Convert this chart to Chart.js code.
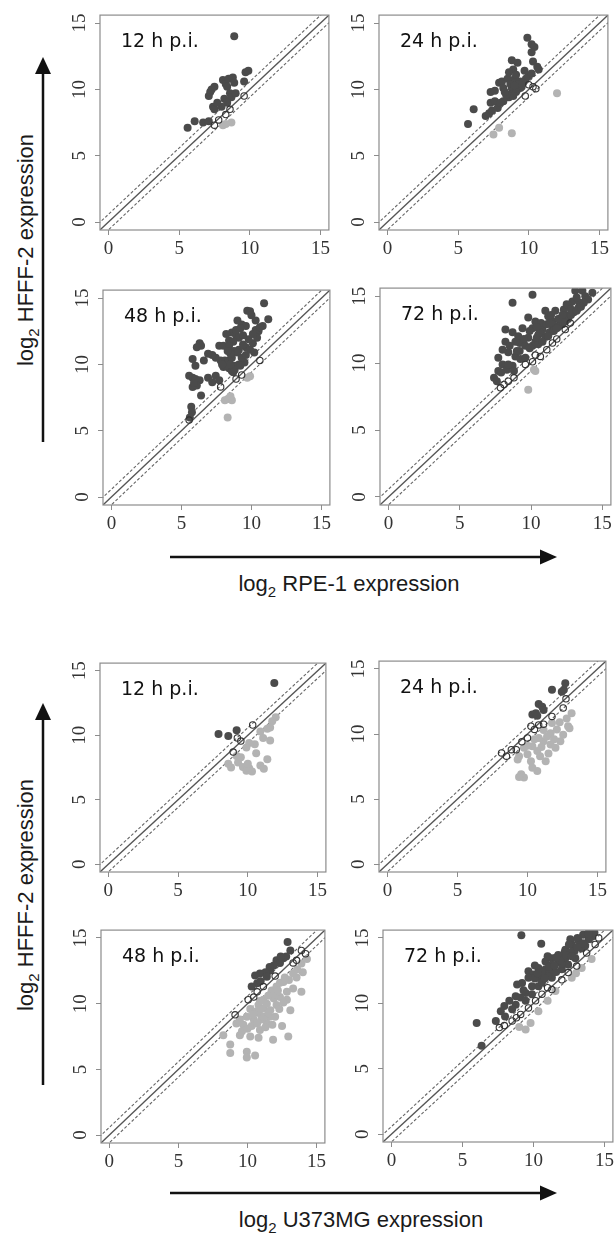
<!DOCTYPE html>
<html><head><meta charset="utf-8">
<script src="https://cdn.jsdelivr.net/npm/chart.js@4.4.0/dist/chart.umd.min.js"></script>
<style>
html,body{margin:0;padding:0;background:#fff;}
body{width:616px;height:1233px;position:relative;overflow:hidden;}
canvas{position:absolute;z-index:1;}
svg{position:absolute;left:0;top:0;z-index:0;}
</style></head>
<body>
<svg width="616" height="1233" xmlns="http://www.w3.org/2000/svg" font-family="'Liberation Sans', Arial, sans-serif" font-size="22" fill="#1a1a1a">
  <line x1="43" y1="442" x2="43" y2="70" stroke="#111" stroke-width="2.5"/>
  <polygon points="43,57 35,74 51,74" fill="#111"/>
  <line x1="170" y1="557" x2="542" y2="557" stroke="#111" stroke-width="2.5"/>
  <polygon points="557,557 540,549.5 540,564.5" fill="#111"/>
  <line x1="43" y1="1085" x2="43" y2="716" stroke="#111" stroke-width="2.5"/>
  <polygon points="43,703 35,720 51,720" fill="#111"/>
  <line x1="170" y1="1193" x2="542" y2="1193" stroke="#111" stroke-width="2.5"/>
  <polygon points="557,1193 540,1185.5 540,1200.5" fill="#111"/>
  <text transform="translate(33,250) rotate(-90)" text-anchor="middle">log<tspan font-size="15" dy="6">2</tspan><tspan dy="-6"> HFFF-2 expression</tspan></text>
  <text transform="translate(33,895) rotate(-90)" text-anchor="middle">log<tspan font-size="15" dy="6">2</tspan><tspan dy="-6"> HFFF-2 expression</tspan></text>
  <text x="349" y="591" text-anchor="middle">log<tspan font-size="15" dy="6">2</tspan><tspan dy="-6"> RPE-1 expression</tspan></text>
  <text x="361" y="1227" text-anchor="middle">log<tspan font-size="15" dy="6">2</tspan><tspan dy="-6"> U373MG expression</tspan></text>
</svg>
<script>
// ---------- tick labels / reference lines ----------
const axisTicks = [0, 5, 10, 15];
const axisMin = -0.6, axisMax = 15.6;
const diagLine  = [[-1, -1], [16, 16]];
const upperLine = [[-1, -0.415], [16, 16.585]];
const lowerLine = [[-1, -1.585], [16, 15.415]];

// ---------- RPE-1 vs HFFF-2 ----------
const rpe12Up = [[5.6,7.1],[6.1,7.6],[6.7,7.5],[7.1,7.6],[7.4,8.7],[7.5,8.5],[7.1,9.5],[7.2,9.8],[7.3,10.0],[7.5,10.2],[8.1,10.7],[8.3,10.4],[8.5,10.8],[8.8,10.9],[8.4,10.2],[8.6,9.7],[8.2,9.3],[8.7,9.4],[9.0,9.7],[8.4,9.0],[9.7,11.3],[9.9,11.4],[9.6,10.6],[8.9,14.0],[8.0,8.7],[8.9,10.5],[7.7,9.0]];
const rpe12Down = [[8.1,7.3],[8.7,7.5],[8.3,7.4]];
const rpe12Same = [[7.5,7.3],[7.8,7.7],[8.3,8.1],[9.6,9.5],[8.6,8.5]];

const rpe24Up = [[5.7,7.4],[6.1,8.5],[6.95,8.0],[7.2,8.2],[7.4,8.4],[7.3,9.0],[7.6,9.1],[7.3,9.8],[7.6,9.9],[7.9,10.5],[8.1,10.6],[8.2,10.1],[8.5,10.8],[8.8,12.2],[9.2,12.0],[8.9,11.5],[8.6,11.3],[9.0,10.8],[9.4,10.6],[8.8,10.1],[9.2,10.0],[9.4,10.1],[8.6,9.6],[8.6,9.4],[8.2,9.1],[8.8,9.6],[9.9,13.9],[10.2,13.4],[10.4,13.2],[10.2,12.8],[10.3,12.1],[10.6,11.7],[10.2,11.2],[10.0,11.0],[9.8,10.8],[10.7,11.5],[9.5,10.2],[9.1,9.8],[8.9,9.5],[8.4,9.6],[7.8,8.6],[8.0,9.0],[9.6,10.5],[9.3,10.4],[8.7,10.4],[9.1,11.1],[8.3,9.8],[9.0,10.3],[9.7,11.4]];
const rpe24Down = [[7.5,6.6],[7.9,7.1],[8.8,6.7],[12.0,9.7]];
const rpe24Same = [[10.0,10.35],[10.5,10.05],[10.3,10.2],[9.75,9.5]];

const rpe48Up = [[10.9,14.6],[11.2,13.4],[9.7,14.05],[9.9,14.0],[10.0,13.7],[10.8,12.9],[10.5,12.5],[10.3,12.6],[9.3,13.0],[9.0,13.3],[9.6,12.9],[8.6,12.4],[8.9,12.2],[9.1,12.0],[8.4,11.8],[8.7,11.7],[7.7,11.4],[8.0,11.4],[8.4,11.4],[9.1,11.1],[9.6,11.3],[9.9,11.1],[10.2,10.9],[10.1,11.6],[10.4,12.0],[8.75,11.0],[9.0,10.9],[8.6,10.5],[8.4,10.3],[8.1,10.3],[7.8,10.3],[7.45,10.5],[7.2,10.7],[6.3,11.6],[6.4,11.4],[6.1,11.3],[5.8,10.4],[6.0,9.9],[6.9,10.8],[6.6,10.3],[5.55,9.15],[5.8,9.0],[6.0,8.9],[6.3,8.8],[5.8,8.3],[6.1,8.4],[6.4,7.65],[5.9,8.6],[6.9,9.0],[7.2,8.65],[7.45,9.15],[7.7,8.8],[8.0,9.8],[8.4,9.7],[8.6,9.5],[8.8,9.9],[9.1,10.0],[9.5,10.15],[9.3,10.5],[5.7,6.8],[5.75,6.4],[5.6,6.0],[8.2,9.9],[8.7,9.4],[9.6,10.7],[9.8,11.9],[9.4,12.2],[8.9,12.6],[9.2,12.7],[10.1,12.3],[8.5,10.8],[7.9,10.0],[8.3,11.0],[8.8,9.6],[9.2,9.9],[8.5,10.0],[9.4,11.5],[10.6,12.8],[10.3,13.3],[8.2,12.3]];
const rpe48Down = [[8.3,6.0],[8.35,7.4],[8.6,7.3],[8.5,7.6],[9.7,9.0],[9.9,9.1],[8.1,7.3]];
const rpe48Same = [[5.55,5.8],[7.8,8.3],[8.9,8.9],[10.6,10.3],[9.3,9.2]];

const rpe72Up = [[10.1,15.1],[8.7,14.5],[8.2,12.5],[8.2,11.6],[8.7,12.3],[9.1,12.0],[9.2,11.5],[9.6,11.3],[9.8,11.9],[7.7,10.4],[8.0,9.9],[7.7,9.4],[7.4,8.9],[7.6,8.65],[8.3,9.5],[8.7,9.8],[8.8,9.4],[8.4,10.8],[8.0,11.0],[8.9,10.5],[9.25,10.3],[9.6,10.4],[10.1,11.3],[10.3,11.6],[10.5,12.1],[10.1,12.6],[11.0,13.9],[11.2,13.5],[11.5,13.1],[11.7,13.9],[11.9,13.3],[12.2,12.9],[12.4,13.6],[12.6,13.3],[12.9,14.6],[13.1,15.4],[13.6,15.4],[13.8,15.0],[13.3,14.1],[14.0,14.75],[14.3,15.25],[10.5,11.4],[10.8,12.5],[11.5,12.5],[10.3,13.1],[9.8,13.4],[11.0,12.0],[11.3,12.3],[12.0,12.8],[12.3,14.0],[12.7,14.2],[13.0,13.8],[13.4,14.5],[13.7,14.5],[9.4,12.6],[9.0,10.9],[8.5,11.3],[10.7,13.0],[11.6,12.8],[12.8,13.6],[7.9,9.3],[8.4,9.9],[9.9,11.1],[10.4,11.9],[11.1,12.9],[11.9,12.7],[12.5,14.4],[13.2,14.9],[11.4,13.6],[9.2,10.9],[8.9,11.6],[10.8,11.6],[11.2,12.0],[11.6,12.4],[12.0,13.3],[12.4,13.1],[12.8,14.0],[13.2,13.9],[13.5,14.2],[10.6,12.3],[11.3,13.0],[11.8,12.6],[12.2,13.6],[9.5,11.8],[9.9,12.4],[10.4,12.7]];
const rpe72Down = [[9.8,8.0],[10.3,9.4],[10.2,9.5]];
const rpe72Same = [[7.85,8.15],[8.1,8.4],[8.4,8.65],[8.8,8.9],[9.6,9.9],[10.1,10.1],[10.65,10.5],[11.1,11.0],[11.5,11.5],[11.8,11.8],[12.4,12.5],[12.75,13.0],[10.3,10.6]];

// ---------- U373MG vs HFFF-2 ----------
const u12Up = [[11.9,14.05],[7.9,10.1],[8.6,9.95],[9.2,10.4]];
const u12Down = [[12.0,11.4],[11.75,11.1],[11.4,10.5],[10.9,10.3],[11.6,9.6],[10.5,9.3],[10.1,9.4],[9.9,9.05],[8.6,7.8],[8.8,7.5],[9.3,7.9],[9.65,7.55],[9.9,7.25],[10.1,7.45],[10.0,7.8],[10.3,7.2],[10.9,7.65],[11.15,7.4],[11.4,8.15],[11.6,10.6],[11.1,9.8],[10.6,8.6],[9.2,8.4],[9.5,8.3]];
const u12Same = [[10.35,10.8],[9.25,9.8],[9.5,9.55],[8.95,8.7]];

const u24Up = [[12.7,13.9],[11.75,13.4],[12.45,13.25],[10.8,12.3],[11.05,12.1],[11.15,11.85],[10.35,11.5],[10.6,11.6],[10.7,11.4],[12.6,13.4]];
const u24Down = [[13.15,11.6],[12.9,10.6],[12.55,9.95],[12.35,9.45],[11.65,9.2],[11.15,9.45],[10.8,9.7],[10.7,8.7],[10.35,9.05],[10.0,8.45],[9.75,8.95],[9.4,8.3],[9.3,8.05],[9.55,6.9],[9.75,6.65],[9.4,6.7],[10.7,7.15],[11.3,7.9],[11.65,10.05],[11.15,10.3],[11.4,9.8],[11.75,10.85],[12.0,8.95],[10.35,7.4],[10.25,7.9],[10.9,8.3],[12.8,11.2],[13.0,10.45],[12.1,10.35],[11.9,9.6],[11.0,9.0],[10.5,9.6],[12.3,10.9],[11.5,8.5],[10.0,9.1]];
const u24Same = [[8.15,8.55],[8.5,8.3],[8.85,8.8],[9.2,8.8],[10.0,9.7],[10.25,10.6],[10.5,10.35],[10.8,10.7],[11.15,10.75],[11.75,11.35],[12.55,12.0],[12.75,12.7],[9.6,9.4]];

const u48Up = [[12.9,14.7],[13.1,14.05],[12.6,13.45],[12.1,13.3],[12.35,13.1],[11.65,12.55],[11.3,12.4],[10.9,12.3],[10.55,12.15],[10.7,11.55],[10.95,11.7],[11.9,12.9],[12.8,13.6],[11.4,12.05],[10.3,11.3],[11.6,12.8],[12.4,13.6]];
const u48Down = [[8.25,7.6],[8.75,6.9],[8.75,6.25],[9.95,6.35],[9.95,5.9],[10.55,6.05],[9.45,7.6],[10.2,7.5],[10.8,7.4],[11.85,7.25],[12.95,7.5],[10.9,8.0],[11.4,8.5],[10.45,8.8],[9.7,8.4],[9.95,9.0],[10.8,9.3],[11.15,9.65],[11.4,10.0],[11.65,9.5],[12.0,9.0],[12.1,9.9],[12.35,10.5],[12.85,10.9],[13.3,11.15],[13.9,10.9],[13.55,12.0],[14.0,12.4],[13.9,13.05],[14.3,13.4],[12.85,10.3],[13.1,9.5],[11.75,11.0],[12.1,11.3],[11.15,10.3],[10.9,10.2],[10.2,9.6],[9.45,8.8],[9.2,8.5],[12.6,11.65],[12.35,11.6],[11.0,8.8],[11.6,9.0],[12.3,9.6],[11.9,10.4],[13.0,11.8],[13.6,12.6],[12.7,12.0],[10.6,9.4],[11.3,8.2],[9.6,7.9],[10.0,8.1],[12.5,8.3],[11.5,10.6],[13.3,12.3],[10.4,9.2],[10.8,9.9],[11.2,9.0],[10.3,8.3],[11.0,9.6],[11.5,9.3],[12.0,10.7],[12.6,10.1],[10.7,8.5],[11.8,8.4],[12.2,11.0]];
const u48Same = [[9.1,9.15],[10.05,10.3],[10.45,10.5],[11.15,11.3],[13.9,14.05],[14.2,13.8],[13.55,13.3],[13.3,13.1],[10.7,10.9],[12.0,12.1]];

const u72Up = [[9.15,15.2],[10.55,14.55],[6.0,8.5],[6.35,6.75],[7.35,8.65],[7.7,9.4],[7.95,9.8],[8.3,10.2],[8.75,10.55],[8.85,11.45],[9.2,11.55],[9.65,12.45],[10.0,12.2],[9.65,11.95],[10.35,12.7],[10.85,13.2],[11.3,13.45],[11.75,13.7],[12.25,14.1],[12.7,14.5],[13.15,14.85],[13.5,15.25],[13.85,15.35],[14.1,15.1],[11.3,12.95],[10.85,12.6],[10.35,11.95],[9.9,11.3],[9.45,10.8],[9.1,10.45],[8.75,9.9],[8.5,9.55],[11.75,13.2],[12.25,13.45],[12.7,13.95],[11.3,11.95],[12.0,12.6],[12.45,12.95],[12.95,13.45],[13.4,14.2],[13.65,14.4],[10.35,11.3],[9.9,10.7],[9.45,10.2],[11.3,12.45],[11.0,12.1],[12.0,13.0],[12.9,14.0],[13.3,14.6],[13.9,14.9],[14.3,15.4],[11.6,12.4],[10.6,11.6],[8.0,9.0],[9.3,11.0],[10.1,11.9],[12.2,13.9],[11.0,13.6],[10.1,12.9],[12.6,14.9],[13.1,15.0],[10.6,12.4],[11.1,12.8],[11.5,12.9],[11.9,13.3],[12.3,13.7],[12.7,13.6],[13.1,14.3],[13.5,14.6],[10.3,12.3],[10.8,11.9],[11.6,13.5],[12.5,14.5],[13.9,15.3]];
const u72Down = [[9.45,8.0],[9.8,8.5],[10.35,9.4],[11.55,10.95],[12.7,11.95],[13.4,12.7],[14.1,13.4],[9.0,8.2],[11.0,10.2],[13.0,12.3]];
const u72Same = [[7.6,8.15],[7.95,8.3],[8.5,8.65],[9.1,9.15],[9.65,9.65],[10.15,10.2],[10.6,10.7],[11.3,11.05],[12.0,11.8],[12.45,12.35],[13.05,12.85],[13.75,13.85],[14.35,14.5],[14.6,15.0],[11.0,11.2],[8.8,8.9]];

// ---------- panel layout (box = plot frame in page pixels) ----------
const panels = [
  {title:'12 h p.i.', box:[100,14,331,230],  up:rpe12Up, down:rpe12Down, same:rpe12Same},
  {title:'24 h p.i.', box:[379,14,610,230],  up:rpe24Up, down:rpe24Down, same:rpe24Same},
  {title:'48 h p.i.', box:[103,289,332,505], up:rpe48Up, down:rpe48Down, same:rpe48Same},
  {title:'72 h p.i.', box:[380,287,613,505], up:rpe72Up, down:rpe72Down, same:rpe72Same},
  {title:'12 h p.i.', box:[100,662,328,872], up:u12Up, down:u12Down, same:u12Same},
  {title:'24 h p.i.', box:[379,660,608,872], up:u24Up, down:u24Down, same:u24Same},
  {title:'48 h p.i.', box:[101,929,327,1143],up:u48Up, down:u48Down, same:u48Same},
  {title:'72 h p.i.', box:[383,929,615,1142],up:u72Up, down:u72Down, same:u72Same}
];

const YW = 40, XH = 34, TP = 4, RP = 3;
const toXY = arr => arr.map(p => ({x:p[0], y:p[1]}));

const decorPlugin = {
  id: 'decor',
  afterDraw(chart, args, opts) {
    const ctx = chart.ctx, a = chart.chartArea;
    ctx.save();
    ctx.strokeStyle = '#8c8c8c';
    ctx.lineWidth = 1.2;
    ctx.strokeRect(a.left, a.top, a.right - a.left, a.bottom - a.top);
    const ys = chart.scales.y;
    ctx.fillStyle = '#333';
    ctx.font = '19px "Liberation Serif", "Times New Roman", serif';
    ctx.textAlign = 'center';
    ctx.textBaseline = 'middle';
    ys.ticks.forEach(t => {
      const py = ys.getPixelForValue(t.value);
      ctx.save();
      ctx.translate(a.left - 20, py);
      ctx.rotate(-Math.PI / 2);
      ctx.fillText(String(t.value), 0, 0);
      ctx.restore();
    });
    ctx.font = '19px "DejaVu Sans", sans-serif';
    ctx.fillStyle = '#111';
    ctx.textAlign = 'left';
    ctx.textBaseline = 'alphabetic';
    ctx.fillText(opts.title, a.left + 21, a.top + 32);
    ctx.restore();
  }
};

function axisCfg(isX) {
  return {
    type: 'linear',
    min: axisMin, max: axisMax,
    afterBuildTicks: s => { s.ticks = axisTicks.map(v => ({value: v})); },
    afterFit: s => { if (isX) s.height = XH; else s.width = YW; },
    grid: {drawOnChartArea: false, drawTicks: true, tickLength: 5, color: '#8c8c8c', lineWidth: 1},
    border: {display: false},
    ticks: {
      display: isX,
      autoSkip: false, maxRotation: 0, minRotation: 0,
      padding: 3,
      color: '#333',
      font: {family: '"Liberation Serif", "Times New Roman", serif', size: 19},
      callback: v => String(v)
    }
  };
}

panels.forEach(p => {
  const [l, t, r, b] = p.box;
  const c = document.createElement('canvas');
  const w = (r - l) + YW + RP, h = (b - t) + TP + XH;
  c.width = w; c.height = h;
  c.style.left = (l - YW) + 'px';
  c.style.top = (t - TP) + 'px';
  c.style.width = w + 'px'; c.style.height = h + 'px';
  document.body.appendChild(c);
  new Chart(c, {
    type: 'scatter',
    data: {
      datasets: [
        {data: toXY(p.same), pointRadius: 3.2, pointBackgroundColor: 'rgba(255,255,255,0)', pointBorderColor: '#333', pointBorderWidth: 1.1},
        {data: toXY(p.up), pointRadius: 4, pointBackgroundColor: '#4b4b4b', pointBorderWidth: 0},
        {data: toXY(p.down), pointRadius: 4, pointBackgroundColor: '#b3b3b3', pointBorderWidth: 0},
        {data: toXY(diagLine), showLine: true, borderColor: '#555', borderWidth: 1.3, pointRadius: 0},
        {data: toXY(upperLine), showLine: true, borderColor: '#666', borderWidth: 1.1, borderDash: [3, 2], pointRadius: 0},
        {data: toXY(lowerLine), showLine: true, borderColor: '#666', borderWidth: 1.1, borderDash: [3, 2], pointRadius: 0}
      ]
    },
    options: {
      responsive: false, animation: false, devicePixelRatio: 1,
      layout: {padding: {top: TP, right: RP, left: 0, bottom: 0}},
      plugins: {legend: {display: false}, tooltip: {enabled: false}, decor: {title: p.title}},
      scales: {x: axisCfg(true), y: axisCfg(false)}
    },
    plugins: [decorPlugin]
  });
});
</script>
</body></html>
